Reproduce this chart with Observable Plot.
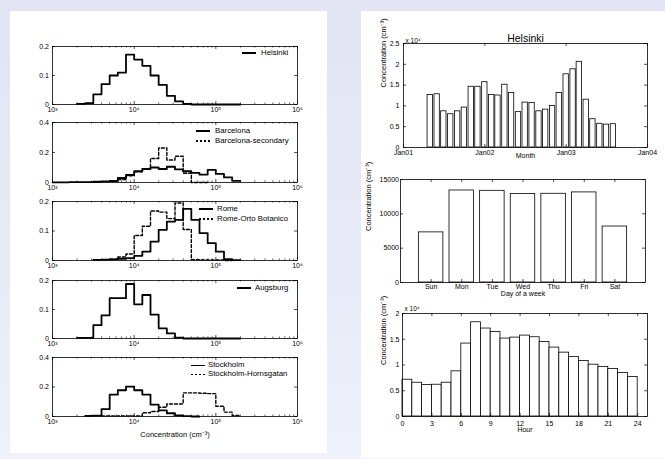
<!DOCTYPE html>
<html><head><meta charset="utf-8">
<script src="https://cdn.jsdelivr.net/npm/d3@7"></script>
<script src="https://cdn.jsdelivr.net/npm/@observablehq/plot@0.6"></script>
<style>
html,body{margin:0;padding:0;}
#root{position:relative;width:665px;height:459px;overflow:hidden;background:linear-gradient(180deg,#e2e4f4 0%,#e8eaf7 60%,#eef0fa 100%);font-family:"Liberation Sans",Arial,Helvetica,sans-serif;}
.card{position:absolute;background:#fff;}
.leg{position:absolute;font-size:7.8px;line-height:1;white-space:nowrap;color:#000;}
.ls{position:absolute;height:1.8px;background:#000;}
.ld{position:absolute;height:1.4px;background:repeating-linear-gradient(90deg,#000 0 2.5px,transparent 2.5px 4px);}
</style></head>
<body>
<div id="root">
  <div class="card" style="left:10px;top:11px;width:317px;height:442px"></div>
  <div class="card" style="left:361px;top:11px;width:304px;height:447px"></div>
</div>
<script>
// ---------------- data ----------------
// histogram bin edges (log10 of concentration, cm^-3)
const binLog10 = [3.0,3.1,3.2,3.3,3.4,3.5,3.6,3.7,3.8,3.9,4.0,4.1,4.2,4.3,4.4,4.5,4.6,4.7,4.8,4.9,5.0,5.1,5.2,5.3];
// fraction per bin (null = not drawn)
const helsinki = [null,null,null,0.002,0.005,0.035,0.07,0.10,0.11,0.172,0.155,0.133,0.10,0.068,0.03,0.011,0.002,0,0,0,0,0,0];
const barcelona = [0.001,0.001,0.002,0.002,0.003,0.005,0.008,0.01,0.03,0.05,0.075,0.09,0.10,0.09,0.105,0.088,0.075,0.064,0.052,0.084,0.057,0.034,0.011];
const barcelonaSecondary = [null,null,null,null,null,null,null,0.008,0.02,0.045,0.072,0.092,0.16,0.23,0.15,0.175,0.062,0,0,null,null,null,null];
const rome = [null,null,null,null,null,0.002,0.003,0.004,0.006,0.008,0.016,0.03,0.064,0.104,0.132,0.138,0.175,0.138,0.093,0.059,0.03,0.005,0.001];
const romeOrtoBotanico = [null,null,null,null,null,null,null,0.004,0.012,0.022,0.085,0.116,0.168,0.164,0.142,0.195,0.105,0.003,0.002,0.002,0.002,0,null];
const augsburg = [null,null,null,0.002,0.002,0.046,0.08,0.139,0.139,0.188,0.118,0.15,0.082,0.035,0.018,0.003,0,0,0,0,0,0,0];
const stockholm = [null,null,null,null,0.004,0.006,0.05,0.148,0.178,0.202,0.178,0.148,0.08,0.042,0.022,0.007,0.002,0,null,null,null,null,null];
const stockholmHornsgatan = [null,null,null,null,null,null,0.004,0.004,0.004,0.004,0.004,0.025,0.034,0.063,0.085,0.085,0.16,0.16,0.158,0.155,0.07,0.03,0.007];

const decades = [1e3,1e4,1e5,1e6];
const decadeLabels = ["10³","10⁴","10⁵","10⁶"];
const minorMultipliers = [2,3,4,5,6,7,8,9];

// monthly means, Helsinki (x 10^4 cm^-3)
const months = ["2001-05","2001-06","2001-07","2001-08","2001-09","2001-10","2001-11","2001-12",
  "2002-01","2002-02","2002-03","2002-04","2002-05","2002-06","2002-07","2002-08","2002-09","2002-10","2002-11","2002-12",
  "2003-01","2003-02","2003-03","2003-04","2003-05","2003-06","2003-07","2003-08"];
const monthlyHelsinki = [1.26,1.28,0.87,0.80,0.87,0.96,1.46,1.46,
  1.57,1.26,1.25,1.51,1.31,0.85,1.08,1.07,0.87,0.91,1.00,1.31,
  1.76,1.88,2.06,1.15,0.68,0.57,0.55,0.56];
const yearTickDates = ["2001-01-01","2002-01-01","2003-01-01","2004-01-01"];
const yearTickLabels = ["Jan01","Jan02","Jan03","Jan04"];
const monthlyYTicks = [0,0.5,1,1.5,2,2.5];

// day of week means (cm^-3)
const days = ["Sun","Mon","Tue","Wed","Thu","Fri","Sat"];
const weekdayHelsinki = [7300,13400,13350,12880,12920,13120,8150];
const weekdayYTicks = [0,5000,10000,15000];

// hourly means (x 10^4 cm^-3)
const hours = [0,1,2,3,4,5,6,7,8,9,10,11,12,13,14,15,16,17,18,19,20,21,22,23];
const hourlyHelsinki = [0.714,0.656,0.61,0.617,0.656,0.877,1.416,1.83,1.708,1.643,1.513,1.532,1.571,1.539,1.448,1.338,1.24,1.156,1.078,1.006,0.961,0.922,0.844,0.766];
const hourTicks = [0,3,6,9,12,15,18,21,24];
const hourlyYTicks = [0,0.5,1,1.5,2];

const concLabel = "Concentration (cm⁻³)";

// ---------------- helpers ----------------
const FONT = '"Liberation Sans", Arial, Helvetica, sans-serif';
const root = document.getElementById("root");
function place(svg, left, top) {
  svg.style.position = "absolute";
  svg.style.left = left + "px";
  svg.style.top = top + "px";
  svg.style.maxWidth = "none";
  root.appendChild(svg);
}
function styleOf(fs) {
  return {background: "transparent", fontFamily: FONT, fontSize: fs + "px", color: "#000", overflow: "visible"};
}
function inwardTicks(xs, ys, fw, fh, len, sw = 0.7) {
  const o = {stroke: "#000", strokeWidth: sw};
  return [
    Plot.ruleX(xs, {x: d => d, insetTop: fh - len, ...o}),
    Plot.ruleX(xs, {x: d => d, insetBottom: fh - len, ...o}),
    Plot.ruleY(ys, {y: d => d, insetRight: fw - len, ...o}),
    Plot.ruleY(ys, {y: d => d, insetLeft: fw - len, ...o})
  ];
}
function stairs(values) {
  const pts = [];
  let last = -1;
  values.forEach((v, k) => { if (v != null) { pts.push({x: Math.pow(10, binLog10[k]), y: v}); last = k; } });
  pts.push({x: Math.pow(10, binLog10[last + 1]), y: values[last]});
  return pts;
}
const minorTicks = [];
decades.slice(0, 3).forEach(d => minorMultipliers.forEach(m => minorTicks.push(d * m)));

// ---------------- left column: size distributions ----------------
const leftPanels = [
  {top: 46, h: 58, ymax: 0.2, yt: [0, 0.1, 0.2], series: [{v: helsinki}]},
  {top: 122, h: 60, ymax: 0.4, yt: [0, 0.2, 0.4], series: [{v: barcelona}, {v: barcelonaSecondary, dashed: true}]},
  {top: 201, h: 59, ymax: 0.2, yt: [0, 0.1, 0.2], series: [{v: rome}, {v: romeOrtoBotanico, dashed: true}]},
  {top: 280, h: 58, ymax: 0.2, yt: [0, 0.1, 0.2], series: [{v: augsburg}]},
  {top: 357, h: 59, ymax: 0.4, yt: [0, 0.2, 0.4], series: [{v: stockholm}, {v: stockholmHornsgatan, dashed: true}], xlabel: true}
];
leftPanels.forEach(p => {
  const mT = 6, mB = p.xlabel ? 28 : 16, fw = 245;
  const marks = [
    ...inwardTicks(decades, p.yt, fw, p.h, 3),
    Plot.ruleX(minorTicks, {x: d => d, insetTop: p.h - 1.6, stroke: "#000", strokeWidth: 0.6}),
    Plot.ruleX(minorTicks, {x: d => d, insetBottom: p.h - 1.6, stroke: "#000", strokeWidth: 0.6}),
    Plot.axisX({ticks: decades, tickFormat: d => decadeLabels[decades.indexOf(d)], tickSize: 0, tickPadding: 3, label: null}),
    Plot.axisY({ticks: p.yt, tickFormat: d => String(d), tickSize: 0, tickPadding: 3.5, label: null}),
    ...p.series.map(s => Plot.line(stairs(s.v), {
      x: "x", y: "y", curve: "step-after", stroke: "#000",
      strokeWidth: s.dashed ? 1.4 : 1.8,
      ...(s.dashed ? {strokeDasharray: "3,2"} : {})
    })),
    Plot.frame({stroke: "#000", strokeWidth: 0.8})
  ];
  if (p.xlabel) marks.push(Plot.text([concLabel], {frameAnchor: "bottom", dy: 20, text: d => d, fontSize: 7.5}));
  const svg = Plot.plot({
    width: 330, height: mT + p.h + mB,
    marginLeft: 52, marginRight: 33, marginTop: mT, marginBottom: mB,
    x: {type: "log", domain: [1e3, 1e6]},
    y: {domain: [0, p.ymax]},
    style: styleOf(7),
    marks
  });
  place(svg, 0, p.top - mT);
});

// legends (left column)
const legends = [
  {x: 242, tx: 261, items: [{y: 53, t: "Helsinki"}]},
  {x: 196, tx: 215, items: [{y: 131, t: "Barcelona"}, {y: 141, t: "Barcelona-secondary", dashed: true}]},
  {x: 199, tx: 217, items: [{y: 209, t: "Rome"}, {y: 219, t: "Rome-Orto Botanico", dashed: true}]},
  {x: 237, tx: 255, items: [{y: 288, t: "Augsburg"}]},
  {x: 191, tx: 208, items: [{y: 365.5, t: "Stockholm"}, {y: 374.5, t: "Stockholm-Hornsgatan", dashed: true}]}
];
legends.forEach(L => L.items.forEach(it => {
  const s = document.createElement("div");
  s.className = it.dashed ? "ld" : "ls";
  s.style.left = L.x + "px"; s.style.width = "14px"; s.style.top = (it.y - 0.8) + "px";
  root.appendChild(s);
  const t = document.createElement("div");
  t.className = "leg"; t.textContent = it.t;
  t.style.left = L.tx + "px"; t.style.top = (it.y - 4.4) + "px";
  root.appendChild(t);
}));

// ---------------- right column ----------------
// A: monthly
const monthTable = months.map((m, i) => ({date: new Date(m + "-01T00:00:00Z"), v: monthlyHelsinki[i]}));
const yearTicks = yearTickDates.map(s => new Date(s + "T00:00:00Z"));
{
  const svg = Plot.plot({
    width: 304, height: 160, marginLeft: 42, marginRight: 18, marginTop: 32, marginBottom: 24,
    x: {type: "utc", domain: [yearTicks[0], yearTicks[3]]},
    y: {domain: [0, 2.5]},
    style: styleOf(7),
    marks: [
      Plot.rectY(monthTable, {x1: d => d3.utcDay.offset(d.date, -12), x2: d => d3.utcDay.offset(d.date, 12), y: "v", fill: "#fff", stroke: "#000", strokeWidth: 0.8}),
      ...inwardTicks(yearTicks, monthlyYTicks, 244, 104, 3),
      Plot.axisX({ticks: yearTicks, tickFormat: d => yearTickLabels[yearTicks.findIndex(t => +t === +d)], tickSize: 0, tickPadding: 2.8, label: null}),
      Plot.axisY({ticks: monthlyYTicks, tickFormat: d => String(d), tickSize: 0, tickPadding: 4, label: null}),
      Plot.text(["Helsinki"], {frameAnchor: "top", dy: -9, text: d => d, fontSize: 10.5}),
      Plot.text(["Month"], {frameAnchor: "bottom", dy: 10, text: d => d, fontSize: 7}),
      Plot.text([concLabel], {frameAnchor: "left", rotate: -90, dx: -20, dy: -8, text: d => d, fontSize: 7.5}),
      Plot.text(["x 10⁴"], {frameAnchor: "top-left", textAnchor: "start", lineAnchor: "bottom", dx: 2, dy: -0.5, text: d => d, fontSize: 6.5}),
      Plot.frame({stroke: "#000", strokeWidth: 0.8})
    ]
  });
  place(svg, 361, 11);
}
// B: day of week
const weekTable = days.map((d, i) => ({day: d, pos: i + 1, v: weekdayHelsinki[i]}));
{
  const svg = Plot.plot({
    width: 304, height: 131, marginLeft: 39, marginRight: 20, marginTop: 8, marginBottom: 20,
    x: {domain: [0, 8]},
    y: {domain: [0, 15000]},
    style: styleOf(7),
    marks: [
      Plot.rectY(weekTable, {x1: d => d.pos - 0.4, x2: d => d.pos + 0.4, y: "v", fill: "#fff", stroke: "#000", strokeWidth: 0.8}),
      ...inwardTicks(weekTable.map(d => d.pos), weekdayYTicks, 245, 103, 3),
      Plot.axisX({ticks: weekTable.map(d => d.pos), tickFormat: d => days[d - 1], tickSize: 0, tickPadding: 2, label: null}),
      Plot.axisY({ticks: weekdayYTicks, tickFormat: d => String(d), tickSize: 0, tickPadding: 1.5, label: null}),
      Plot.text(["Day of a week"], {frameAnchor: "bottom", dy: 13, text: d => d, fontSize: 7}),
      Plot.text([concLabel], {frameAnchor: "left", rotate: -90, dx: -32, text: d => d, fontSize: 7.5}),
      Plot.frame({stroke: "#000", strokeWidth: 0.8})
    ]
  });
  place(svg, 361, 171);
}
// C: hour of day
const hourTable = hours.map((h, i) => ({hour: h, v: hourlyHelsinki[i]}));
{
  const svg = Plot.plot({
    width: 304, height: 156, marginLeft: 41, marginRight: 18, marginTop: 11, marginBottom: 42,
    x: {domain: [0, 25]},
    y: {domain: [0, 2]},
    style: styleOf(7),
    marks: [
      Plot.rectY(hourTable, {x1: "hour", x2: d => d.hour + 1, y: "v", fill: "#fff", stroke: "#000", strokeWidth: 0.8}),
      ...inwardTicks(hourTicks, hourlyYTicks, 245, 103, 3),
      Plot.axisX({ticks: hourTicks, tickFormat: d => String(d), tickSize: 0, tickPadding: 4.5, label: null}),
      Plot.axisY({ticks: hourlyYTicks, tickFormat: d => String(d), tickSize: 0, tickPadding: 3, label: null}),
      Plot.text(["Hour"], {frameAnchor: "bottom", dy: 15, text: d => d, fontSize: 7}),
      Plot.text([concLabel], {frameAnchor: "left", rotate: -90, dx: -19, text: d => d, fontSize: 7.5}),
      Plot.text(["x 10⁴"], {frameAnchor: "top-left", textAnchor: "start", lineAnchor: "bottom", dx: 2, dy: -3, text: d => d, fontSize: 6.5}),
      Plot.frame({stroke: "#000", strokeWidth: 0.8})
    ]
  });
  place(svg, 361, 302);
}
</script>
</body></html>
